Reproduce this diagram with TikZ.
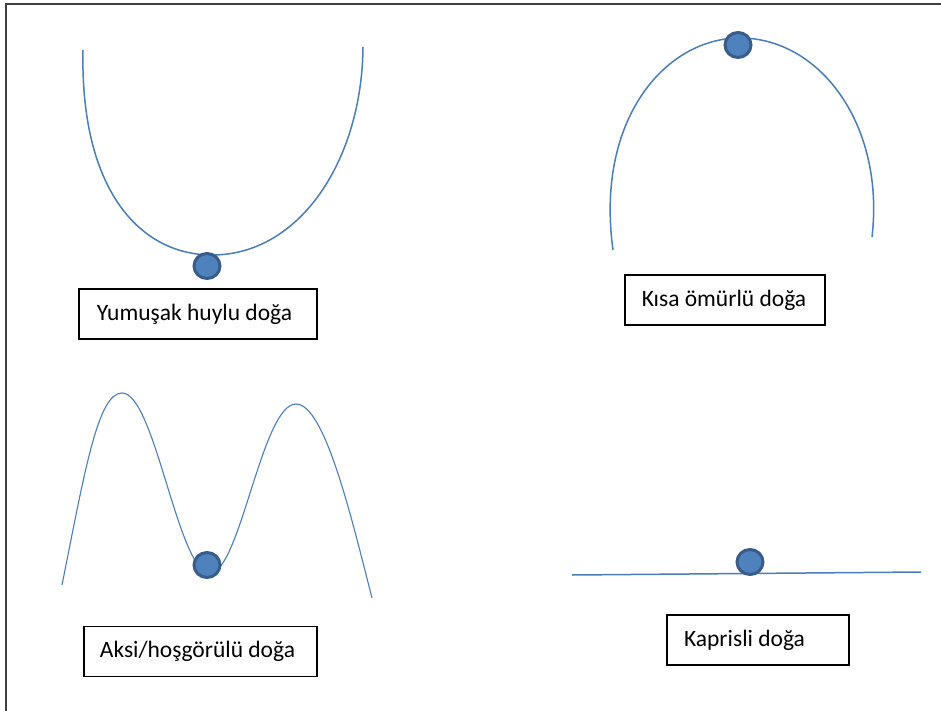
\documentclass[tikz,border=0pt]{standalone}
\usepackage{fontspec}
\setmainfont{Carlito}
\usetikzlibrary{positioning,shapes.geometric}
\definecolor{egri}{HTML}{4A7EBB}
\definecolor{topic}{HTML}{4F81BD}
\definecolor{topkenar}{HTML}{385D8A}

\begin{document}
\begin{tikzpicture}[x=1pt, y=-1pt, font=\fontsize{23.5}{28}\selectfont,
      cizgi/.style={draw=egri, line width=1.5pt},
      bilye/.style={ellipse, draw=topkenar, fill=topic, line width=3pt,
                    minimum width=26pt, minimum height=25pt, inner sep=0pt},
      kutu/.style={draw, line width=1.8pt, inner sep=0pt, minimum height=50pt}]
    \useasboundingbox (0,0) rectangle (941,711);
    % cerceve
    \draw[line width=2pt, black!75] (6,711) -- (6,4) -- (941,4);

    % yumusak huylu
    \draw[cizgi] (83,50) .. controls (80,190) and (140,255) .. (212,255)
                 .. controls (300,255) and (362,160) .. (363,47);
    \node[bilye] (b1) at (207,266) {};
    \node[kutu, minimum width=238pt] (k1) at (198,314) {\hspace{-7pt}Yumuşak huylu doğa};

    % kisa omurlu
    \draw[cizgi] (613,250) .. controls (595,120) and (665,38) .. (740,38)
                 .. controls (820,38) and (885,125) .. (872,237);
    \node[bilye] (b2) at (738,45) {};
    \node[kutu, minimum width=200pt] (k2) at (725,300) {\hspace{-2pt}Kısa ömürlü doğa};

    % aksi / hosgorulu
    \draw[cizgi, line width=1.1pt] (62,585) .. controls (85,470) and (98,393) .. (122,393)
                 .. controls (155,393) and (178,573) .. (210,573)
                 .. controls (240,573) and (262,404) .. (296,404)
                 .. controls (325,404) and (352,520) .. (372,598);
    \node[bilye] (b3) at (207,565) {};
    \node[kutu, minimum width=233pt] (k3) at (200.5,651.5) {\hspace{-6pt}Aksi/hoşgörülü doğa};

    % kaprisli
    \draw[cizgi] (572,575) -- (921,572);
    \node[bilye] (b4) at (750,562) {};
    \node[kutu, minimum width=182pt] (k4) at (758,640) {\hspace{-27pt}Kaprisli doğa};
  \end{tikzpicture}
\end{document}
